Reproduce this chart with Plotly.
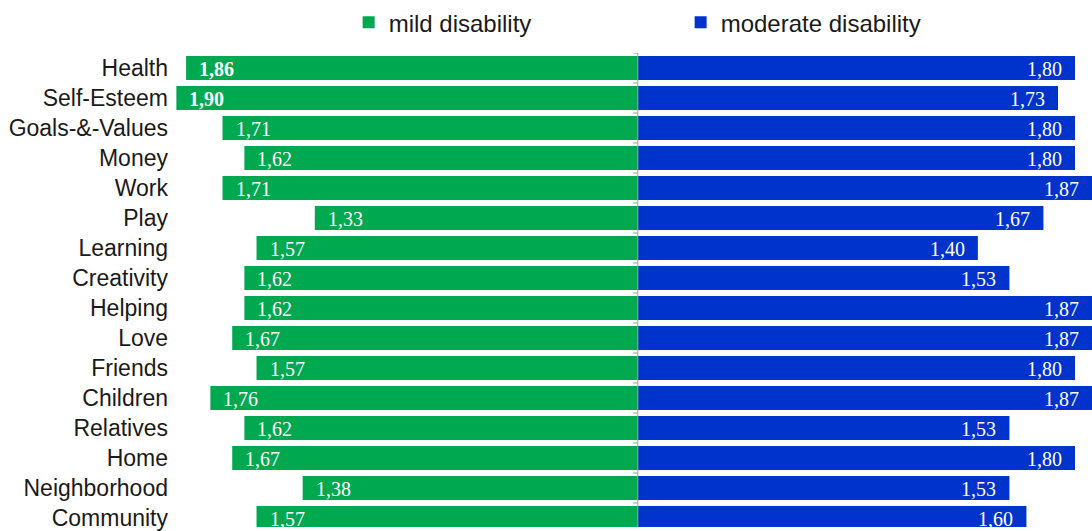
import plotly.graph_objects as go

# Life domains, listed top to bottom
domains = [
    "Health", "Self-Esteem", "Goals-&-Values", "Money", "Work", "Play",
    "Learning", "Creativity", "Helping", "Love", "Friends", "Children",
    "Relatives", "Home", "Neighborhood", "Community",
]

# Mean scores per group
mild = [1.86, 1.90, 1.71, 1.62, 1.71, 1.33, 1.57, 1.62, 1.62, 1.67,
        1.57, 1.76, 1.62, 1.67, 1.38, 1.57]
moderate = [1.80, 1.73, 1.80, 1.80, 1.87, 1.67, 1.40, 1.53, 1.87, 1.87,
            1.80, 1.87, 1.53, 1.80, 1.53, 1.60]

series_names = ["mild disability", "moderate disability"]

# Styling
GREEN = "#00A850"
BLUE = "#0033CC"
SANS = "Liberation Sans, Arial, sans-serif"
SERIF = "Liberation Serif, Times New Roman, serif"
BOLD_MILD = {"Health", "Self-Esteem"}


def fmt(v):
    return f"{v:.2f}".replace(".", ",")


fig = go.Figure()
fig.add_trace(go.Bar(
    y=domains, x=[-v for v in mild], orientation="h", name=series_names[0],
    marker=dict(color=GREEN, line=dict(width=0)),
    hovertemplate="%{y}: " + "%{customdata}<extra></extra>",
    customdata=[fmt(v) for v in mild],
))
fig.add_trace(go.Bar(
    y=domains, x=moderate, orientation="h", name=series_names[1],
    marker=dict(color=BLUE, line=dict(width=0)),
    hovertemplate="%{y}: " + "%{customdata}<extra></extra>",
    customdata=[fmt(v) for v in moderate],
))

# Value labels inside the outer end of each bar
annotations = []
for name, v in zip(domains, mild):
    txt = fmt(v)
    if name in BOLD_MILD:
        txt = f"<b>{txt}</b>"
    annotations.append(dict(
        x=-v, y=name, xref="x", yref="y", text=txt, showarrow=False,
        xanchor="left", xshift=11, yshift=-1,
        font=dict(family=SERIF, size=20, color="white"),
    ))
for name, v in zip(domains, moderate):
    annotations.append(dict(
        x=v, y=name, xref="x", yref="y", text=fmt(v), showarrow=False,
        xanchor="right", xshift=-11, yshift=-1,
        font=dict(family=SERIF, size=20, color="white"),
    ))

# Central axis line with small boundary ticks
shapes = [dict(
    type="line", xref="x", yref="paper", x0=0, x1=0, y0=0, y1=1,
    line=dict(color="#A0A0A0", width=1), layer="above",
)]
for i in range(len(domains) + 1):
    shapes.append(dict(
        type="line", xref="x", yref="y", xsizemode="pixel", xanchor=0,
        x0=-5, x1=0, y0=i - 0.5, y1=i - 0.5,
        line=dict(color="#A0A0A0", width=1), layer="above",
    ))

fig.update_layout(
    width=1092, height=531,
    margin=dict(l=172, r=0, t=53, b=0),
    paper_bgcolor="white", plot_bgcolor="white",
    barmode="relative", bargap=0.2,
    showlegend=True,
    legend=dict(
        orientation="h", x=0.192, xanchor="left", y=1.064, yanchor="middle",
        entrywidth=287, font=dict(family=SANS, size=24, color="#1a1a1a"),
        traceorder="normal",
    ),
    xaxis=dict(range=[-1.918, 1.87], visible=False, fixedrange=True),
    yaxis=dict(
        type="category", categoryorder="array", categoryarray=domains,
        range=[15.30, -0.5], showgrid=False, zeroline=False, showline=False,
        ticks="", ticklabelstandoff=3,
        tickfont=dict(family=SANS, size=23, color="#1a1a1a"),
        fixedrange=True,
    ),
    annotations=annotations,
    shapes=shapes,
)

fig.write_html("out.html")
